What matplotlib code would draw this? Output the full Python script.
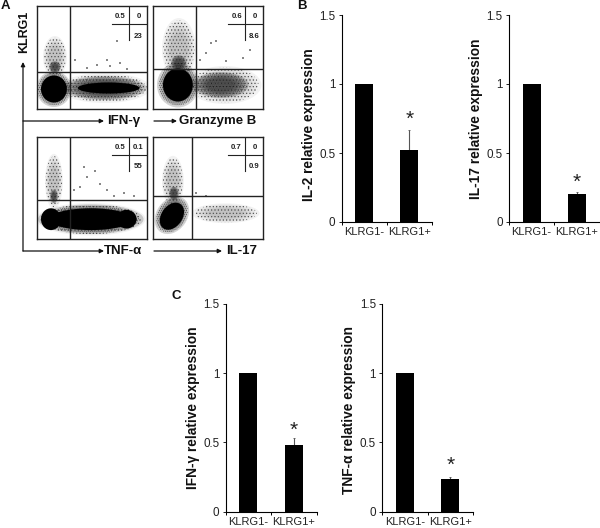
import matplotlib
matplotlib.use('Agg')
import matplotlib.pyplot as plt
from matplotlib.patches import Ellipse, FancyArrowPatch

plt.rcParams['font.family'] = ['Liberation Sans', 'DejaVu Sans']
plt.rcParams['hatch.linewidth'] = 0.5

W, H = 600, 528

# bar panels
categories = ['KLRG1-', 'KLRG1+']
bar_labels = ['IL-2 relative expression', 'IL-17 relative expression',
              'IFN-γ relative expression', 'TNF-α relative expression']
bar_values = [[1, 0.52], [1, 0.20], [1, 0.48], [1, 0.235]]
bar_errors = [[0, 0.145], [0, 0.02], [0, 0.05], [0, 0.015]]
star_heights = [0.745, 0.285, 0.59, 0.335]
label_centres = [0.47, 0.5, 0.5, 0.49]
y_ticks = [0, 0.5, 1, 1.5]
y_tick_labels = ['0', '0.5', '1', '1.5']

# flow panels, values in panel units (0-110 across, 0-103 up)
gate_x = [33, 43, 33, 39]
gate_y = [37, 40, 39, 43]
quad_labels = [['0.5', '0', '23'], ['0.6', '0', '8.6'],
               ['0.5', '0.1', '55'], ['0.7', '0', '0.9']]
# (x, y, width, height, angle)
solid_blobs = [
    [(17, 20, 26, 27, 0), (72, 21, 62, 11, 0)],
    [(25, 24, 30, 33, 0)],
    [(14, 20, 20, 22, 0), (54, 20, 84, 22, 0), (90, 20, 20, 19, 0)],
    [(19, 23, 30, 21, 55)],
]
dense_clouds = [
    [(17, 20, 35, 36, 0), (68, 21, 84, 24, 0), (18, 42, 12, 12, 0)],
    [(25, 24, 42, 45, 0), (68, 24, 56, 26, 0), (26, 46, 16, 16, 0)],
    [(54, 20, 106, 30, 0), (17, 43, 8, 14, 0)],
    [(19, 24, 41, 31, 55), (21, 46, 10, 14, 0)],
]
sparse_clouds = [
    [(18, 52, 24, 42, 0), (68, 21, 92, 30, 0)],
    [(26, 60, 34, 62, 0), (72, 24, 74, 38, 0)],
    [(17, 58, 18, 56, 0), (54, 20, 110, 33, 0)],
    [(20, 58, 22, 52, 0), (73, 26, 68, 20, 0)],
]
stray_x = [[80, 60, 70, 83, 38, 73, 90, 50],
           [58, 53, 47, 63, 90, 73, 97],
           [47, 58, 43, 63, 87, 77, 37, 50, 97, 70],
           [43, 53]]
stray_y = [[68, 44, 49, 46, 49, 43, 40, 41],
           [66, 56, 49, 68, 51, 48, 59],
           [73, 69, 53, 56, 46, 43, 49, 63, 43, 49],
           [46, 43]]
flow_names = ['IFN-γ', 'Granzyme B', 'TNF-α', 'IL-17']


def box(left, top, right, bottom):
    return [left / W, 1 - bottom / H, (right - left) / W, (bottom - top) / H]


def soft_cloud(ax, cloud, alpha, hatch, z):
    # nested ellipses so the edge of a cloud fades out
    x, y, w, h, a = cloud
    for k in [1.0, 0.88, 0.76, 0.64, 0.52]:
        ax.add_patch(Ellipse((x, y), w * k, h * k, angle=a, fc=(0, 0, 0, alpha), ec='none',
                             lw=0, zorder=z))
    ax.add_patch(Ellipse((x, y), w * 0.92, h * 0.92, angle=a, fc='none', ec='#555555', lw=0,
                         hatch=hatch, zorder=z))


def flow_panel(fig, rect, i):
    ax = fig.add_axes(box(*rect))
    ax.set_xlim(0, 110)
    ax.set_ylim(0, 103)
    ax.set_xticks([])
    ax.set_yticks([])
    for s in ax.spines.values():
        s.set_linewidth(1.0)
        s.set_color('#222222')
    for cloud in sparse_clouds[i]:
        soft_cloud(ax, cloud, 0.05, '.....', 1)
    for cloud in dense_clouds[i]:
        soft_cloud(ax, cloud, 0.17, '........', 2)
    for (x, y, w, h, a) in solid_blobs[i]:
        ax.add_patch(Ellipse((x, y), w, h, angle=a, fc='black', ec='none', zorder=3))
    ax.scatter(stray_x[i], stray_y[i], s=1.2, c='#888888', marker='s', lw=0, zorder=3)
    ax.axvline(gate_x[i], color='#222222', lw=1.0, zorder=4)
    ax.axhline(gate_y[i], color='#222222', lw=1.0, zorder=4)
    # quadrant percentages
    ax.plot([92, 92], [69, 102], color='#222222', lw=0.8, zorder=4)
    ax.plot([75, 109], [85, 85], color='#222222', lw=0.8, zorder=4)
    pos = [(84, 92.5), (102, 92.5), (101.5, 73)]
    for (x, y), t in zip(pos, quad_labels[i]):
        ax.text(x, y, t, ha='center', va='center', fontsize=5.6, fontweight='bold',
                color='#222222', zorder=5)
    return ax


def bar_panel(fig, rect, i):
    ax = fig.add_axes(box(*rect))
    ax.bar([0, 1], bar_values[i], width=0.4, color='black', zorder=2)
    ax.errorbar([1], [bar_values[i][1]], yerr=[[0], [bar_errors[i][1]]], fmt='none',
                ecolor='#555555', elinewidth=0.8, capsize=1, capthick=0.6, zorder=1)
    ax.text(1, star_heights[i], '*', ha='center', va='center', fontsize=15, color='#222222')
    ax.set_xlim(-0.5, 1.5)
    ax.set_ylim(0, 1.5)
    ax.set_yticks(y_ticks)
    ax.set_yticklabels(y_tick_labels)
    ax.set_xticks([0, 1])
    ax.set_xticklabels(categories)
    ax.set_xticks([-0.5, 0.5, 1.5], minor=True)
    ax.tick_params(axis='x', which='major', length=0, pad=3.5, labelsize=8.0, colors='#222222')
    ax.tick_params(axis='x', which='minor', length=2.5, direction='out', width=0.7)
    ax.tick_params(axis='y', length=2.5, direction='out', width=0.7, pad=2,
                   labelsize=8.4, colors='#222222')
    ax.spines['top'].set_visible(False)
    ax.spines['right'].set_visible(False)
    ax.spines['left'].set_linewidth(0.8)
    ax.spines['bottom'].set_linewidth(0.8)
    ax.set_ylabel(bar_labels[i], fontsize=9.9, fontweight='bold', labelpad=2.5, color='#111111',
                  y=label_centres[i])
    return ax


def arrow(fig, x0, y0, x1, y1):
    fig.add_artist(FancyArrowPatch(
        (x0 / W, 1 - y0 / H), (x1 / W, 1 - y1 / H), transform=fig.transFigure,
        arrowstyle='-|>', mutation_scale=6, lw=0.9, color='#111111', shrinkA=0, shrinkB=0))


def label(fig, x, y, text, size=9, **kw):
    fig.text(x / W, 1 - y / H, text, fontsize=size, fontweight='bold', color='#111111',
             ha=kw.pop('ha', 'center'), va='center', **kw)


def main():
    fig = plt.figure(figsize=(W / 100, H / 100), dpi=100)

    flow_rects = [(37, 6, 146.5, 109), (153, 6, 262.5, 109),
                  (37, 137, 146.5, 239), (153, 137, 262.5, 239)]
    for i, rect in enumerate(flow_rects):
        flow_panel(fig, rect, i)

    bar_rects = [(341.7, 15, 432, 222), (509, 15, 599.5, 222),
                 (225.7, 304, 316.5, 511.7), (382.3, 304, 473, 511.7)]
    for i, rect in enumerate(bar_rects):
        bar_panel(fig, rect, i)

    # flow axis arrows
    arrow(fig, 23, 251, 23, 62)
    arrow(fig, 23, 121, 104, 121)
    arrow(fig, 23, 251, 104, 251)
    arrow(fig, 154, 121, 177, 121)
    arrow(fig, 154, 251, 222, 251)

    label(fig, 24, 32, 'KLRG1', rotation=90)
    label(fig, 124, 121, flow_names[0], size=9.5)
    label(fig, 218, 121, flow_names[1], size=9.5)
    label(fig, 123, 251, flow_names[2], size=9.5)
    label(fig, 242, 251, flow_names[3], size=9.5)

    label(fig, 5, 6, 'A', size=9.5)
    label(fig, 302, 6, 'B', size=9.5)
    label(fig, 176, 296, 'C', size=9.5)

    fig.savefig('out.png', dpi=100)


if __name__ == "__main__":
    main()
